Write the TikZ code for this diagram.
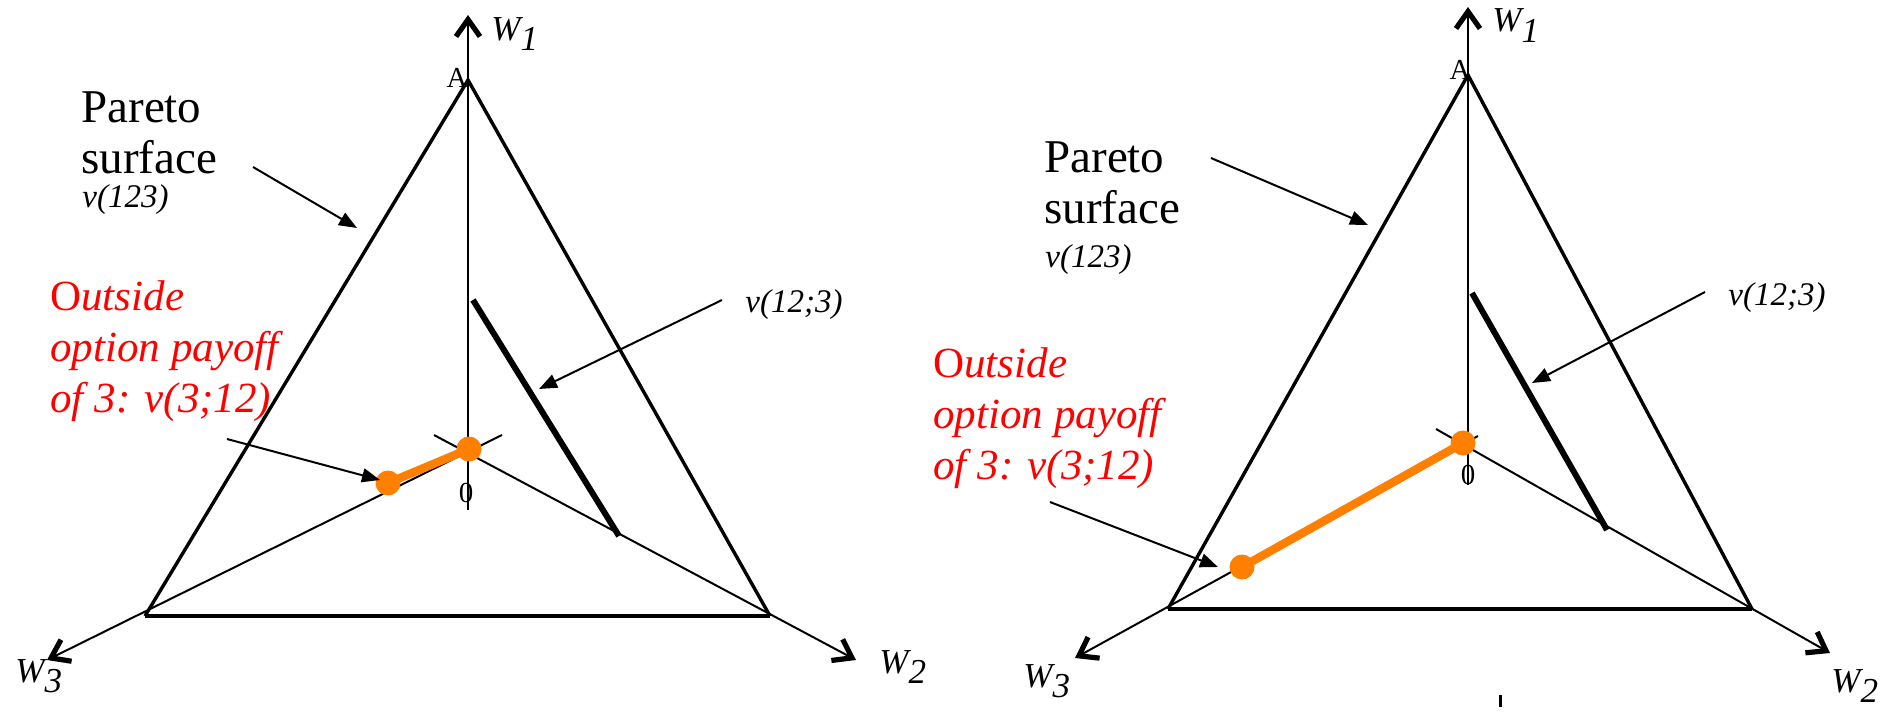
\documentclass[tikz,border=0pt]{standalone}
\usepackage{fontspec}
\setmainfont{Liberation Serif}
\usetikzlibrary{arrows.meta}
\definecolor{orng}{RGB}{255,128,0}
\newcommand{\wlab}[1]{\itshape W\raisebox{-0.3em}{#1}}
\tikzset{
  axisline/.style={line width=1pt, -{Straight Barb[length=8.5pt,width=12pt,line width=2.6pt]}},
  triside/.style={line width=1.7pt},
  tribase/.style={line width=2.2pt},
  thickseg/.style={line width=3pt},
  orngseg/.style={line width=4.2pt, orng},
  orngdot/.style={circle, fill=orng, minimum size=12.5pt, inner sep=0pt},
  pointer/.style={line width=1pt, -{Triangle[length=9pt,width=7pt]}},
  bigtxt/.style={inner sep=0pt, font=\fontsize{23.5}{25.5}\selectfont, align=left},
  redtxt/.style={inner sep=0pt, text=red, font=\fontsize{21.5}{25.5}\selectfont\itshape, align=left},
  smalltxt/.style={inner sep=0pt, font=\fontsize{16.5}{19}\selectfont\itshape},
  wtxt/.style={inner sep=0pt, font=\fontsize{17.5}{20}\selectfont},
  tinytxt/.style={inner sep=0pt, font=\fontsize{14.5}{17}\selectfont},
}
\begin{document}
\begin{tikzpicture}[x=0.5pt, y=-0.5pt]
\useasboundingbox (0,0) rectangle (1881,712);
%% ---------------- LEFT PANEL ----------------
\coordinate (LO) at (468,450);
\coordinate (LA) at (468,80);
\coordinate (LB3) at (145,616);
\coordinate (LB2) at (770,616);
\coordinate (LW1) at (468,15);
\coordinate (LW1b) at (468,510);
\coordinate (LW3) at (47,660);
\coordinate (LW2) at (856,660);
\coordinate (LX3) at (502,435);
\coordinate (LX2) at (434,435);
\coordinate (LS1) at (473,300);
\coordinate (LS2) at (619,536);
% axes
\draw[axisline] (LW1b) -- (LW1);
\draw[axisline] (LX3) -- (LW3);
\draw[axisline] (LX2) -- (LW2);
% triangle
\draw[triside] (LB3) -- (LA) -- (LB2);
\draw[tribase] (LB3) -- (LB2);
% v(12;3) segment
\draw[thickseg] (LS1) -- (LS2);
% orange segment
\node[orngdot] (LP1) at (388,483) {};
\node[orngdot] (LP2) at (469,449) {};
\draw[orngseg] (LP1.center) -- (LP2.center);
% labels
\node[tinytxt] (LAl) at (457,78) {A};
\node[tinytxt] (LZ) at (466,493) {0};
\node[wtxt, anchor=base west] (LW1l) at (491,40) {\wlab{1}};
\node[wtxt, anchor=base west] (LW3l) at (15,682) {\wlab{3}};
\node[wtxt, anchor=base west] (LW2l) at (879,673) {\wlab{2}};
\node[bigtxt, anchor=north west] (LPar) at (81,91) {Pareto\\surface};
\node[smalltxt, anchor=base west] (LV123) at (82,207) {v(123)};
\node[smalltxt, anchor=base west] (LV123b) at (745,312) {v(12;3)};
\node[redtxt, anchor=north west] (LOut) at (50,280) {{\upshape O}utside\\option payoff\\of 3: v(3;12)};
% pointers
\coordinate (LPa1) at (253,167); \coordinate (LPa2) at (357,228);
\coordinate (LVa1) at (722,300); \coordinate (LVa2) at (539,389);
\coordinate (LOa1) at (227,439); \coordinate (LOa2) at (380,480);
\draw[pointer] (LPa1) -- (LPa2);
\draw[pointer] (LVa1) -- (LVa2);
\draw[pointer] (LOa1) -- (LOa2);
%% ---------------- RIGHT PANEL ----------------
\coordinate (RO) at (1466,443);
\coordinate (RA) at (1468,75);
\coordinate (RB3) at (1168,609);
\coordinate (RB2) at (1752,609);
\coordinate (RW1) at (1468,7);
\coordinate (RW1b) at (1468,485);
\coordinate (RW3) at (1075,658);
\coordinate (RW2) at (1830,653);
\coordinate (RX3) at (1478,436);
\coordinate (RX2) at (1436,429);
\coordinate (RS1) at (1472,293);
\coordinate (RS2) at (1607,530);
\draw[axisline] (RW1b) -- (RW1);
\draw[axisline] (RX3) -- (RW3);
\draw[axisline] (RX2) -- (RW2);
\draw[triside] (RB3) -- (RA) -- (RB2);
\draw[tribase] (RB3) -- (RB2);
\draw[thickseg] (RS1) -- (RS2);
\node[orngdot] (RP1) at (1242,567) {};
\node[orngdot] (RP2) at (1463,443) {};
\draw[orngseg] (RP1.center) -- (RP2.center);
\node[tinytxt] (RAl) at (1460,70) {A};
\node[tinytxt] (RZ) at (1468,475) {0};
\node[wtxt, anchor=base west] (RW1l) at (1492,32) {\wlab{1}};
\node[wtxt, anchor=base west] (RW3l) at (1023,687) {\wlab{3}};
\node[wtxt, anchor=base west] (RW2l) at (1831,692) {\wlab{2}};
\node[bigtxt, anchor=north west] (RPar) at (1044,141) {Pareto\\surface};
\node[smalltxt, anchor=base west] (RV123) at (1045,267) {v(123)};
\node[smalltxt, anchor=base west] (RV123b) at (1728,305) {v(12;3)};
\node[redtxt, anchor=north west] (ROut) at (933,347) {{\upshape O}utside\\option payoff\\of 3: v(3;12)};
\coordinate (RPa1) at (1211,158); \coordinate (RPa2) at (1368,225);
\coordinate (RVa1) at (1705,292); \coordinate (RVa2) at (1532,383);
\coordinate (ROa1) at (1050,502); \coordinate (ROa2) at (1218,567);
\draw[pointer] (RPa1) -- (RPa2);
\draw[pointer] (RVa1) -- (RVa2);
\draw[pointer] (ROa1) -- (ROa2);
% stray tick mark below right panel
\coordinate (RT1) at (1500,695); \coordinate (RT2) at (1500,707);
\draw[line width=1.5pt] (RT1) -- (RT2);
\end{tikzpicture}
\end{document}
